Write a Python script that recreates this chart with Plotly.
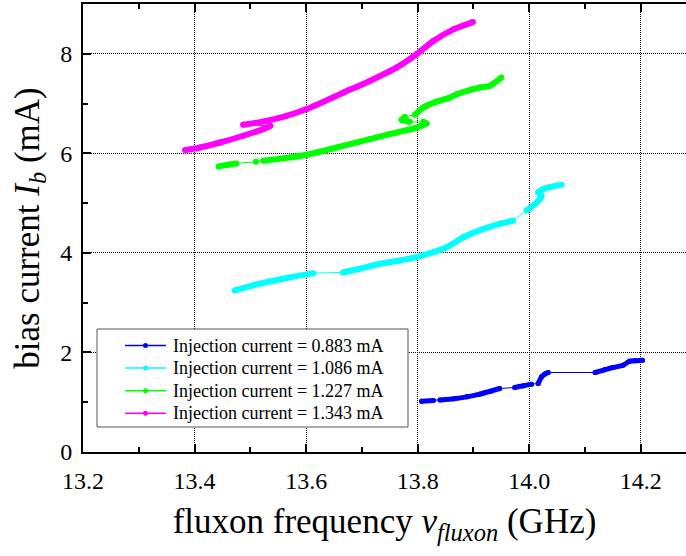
import plotly.graph_objects as go

# Fluxon frequency (GHz) and bias current (mA) for each injection current.
# *_thin lists the indices i where the step i -> i+1 is a sparse jump
# (drawn only with the thin connecting line).

inj_labels = ["0.883", "1.086", "1.227", "1.343"]
colors = ["#0000ff", "#00ffff", "#00ff00", "#ff00ff"]

blue_x = [13.807, 13.828, 13.840, 13.865, 13.888, 13.911, 13.930, 13.947,
          13.974, 13.990, 14.004, 14.016, 14.022, 14.028, 14.034,
          14.118, 14.135, 14.150, 14.168, 14.180, 14.190, 14.203]
blue_y = [1.022, 1.036, 1.045, 1.070, 1.108, 1.162, 1.220, 1.276,
          1.296, 1.330, 1.363, 1.376, 1.510, 1.565, 1.597,
          1.597, 1.650, 1.697, 1.743, 1.824, 1.835, 1.844]
blue_thin = [1, 7, 10, 14]

cyan_x = [13.472, 13.505, 13.559, 13.613, 13.666, 13.696, 13.732, 13.768,
          13.798, 13.828, 13.852, 13.882, 13.918, 13.947, 13.971,
          13.995, 14.008, 14.019, 14.022, 14.016, 14.025, 14.040, 14.058]
cyan_y = [3.246, 3.347, 3.480, 3.593, 3.607, 3.681, 3.781, 3.848,
          3.915, 4.014, 4.114, 4.315, 4.482, 4.583, 4.649,
          4.850, 4.960, 5.084, 5.150, 5.217, 5.285, 5.330, 5.371]
cyan_thin = [3, 14]

green_x = [13.443, 13.460, 13.475, 13.510, 13.523, 13.560, 13.601, 13.655,
           13.714, 13.750, 13.790, 13.807, 13.816, 13.810, 13.786, 13.771,
           13.777, 13.795, 13.810, 13.834, 13.855, 13.870, 13.911, 13.929,
           13.950]
green_y = [5.738, 5.770, 5.798, 5.832, 5.852, 5.900, 5.972, 6.118,
           6.286, 6.387, 6.490, 6.553, 6.599, 6.633, 6.633, 6.673,
           6.733, 6.774, 6.920, 7.040, 7.108, 7.188, 7.321, 7.355,
           7.521]
green_thin = [2, 3, 13, 16]

magenta_x = [13.383, 13.410, 13.446, 13.487, 13.523, 13.536,
             13.487, 13.529, 13.565, 13.601, 13.667, 13.714, 13.762,
             13.798, 13.828, 13.864, 13.899]
magenta_y = [6.066, 6.118, 6.218, 6.353, 6.487, 6.553,
             6.573, 6.653, 6.753, 6.890, 7.221, 7.455, 7.722,
             7.990, 8.257, 8.491, 8.637]
magenta_thin = [5]

series = [
    (blue_x, blue_y, blue_thin, 5),
    (cyan_x, cyan_y, cyan_thin, 6),
    (green_x, green_y, green_thin, 6),
    (magenta_x, magenta_y, magenta_thin, 6),
]

FONT = "Liberation Serif"

# figure / plot-area geometry in pixels
W, H = 686, 556
ML, MR, MT, MB = 83, 0, 4, 104
PW, PH = W - ML - MR, H - MT - MB

fig = go.Figure()


def dense_segments(xs, ys, thin):
    """Split a series into its densely sampled runs, separated by None."""
    sx, sy = [], []
    for i, (x, y) in enumerate(zip(xs, ys)):
        sx.append(x)
        sy.append(y)
        if i in thin:
            sx.append(None)
            sy.append(None)
    return sx, sy


# thick strokes for the densely measured runs
for (xs, ys, thin, w), c in zip(series, colors):
    sx, sy = dense_segments(xs, ys, thin)
    fig.add_trace(go.Scatter(
        x=sx, y=sy, mode="lines+markers", connectgaps=False,
        line=dict(color=c, width=w, shape="spline", smoothing=0.6),
        marker=dict(color=c, size=w),
        showlegend=False, hoverinfo="skip"))

# thin connecting line with point markers
for (xs, ys, thin, w), c, lab in zip(series, colors, inj_labels):
    fig.add_trace(go.Scatter(
        x=xs, y=ys, mode="lines+markers",
        line=dict(color=c, width=1), marker=dict(color=c, size=5),
        name=f"Injection current = {lab} mA", showlegend=False))

tick_font = dict(family=FONT, size=24, color="black")
title_font = dict(family=FONT, size=35, color="black")

axis_common = dict(
    showline=True, linecolor="black", linewidth=2,
    ticks="inside", ticklen=8, tickwidth=2, tickcolor="black",
    showgrid=True, gridcolor="#000000", gridwidth=1, griddash="1px,1px",
    zeroline=False,
)

fig.update_xaxes(
    range=[13.2, 14.281], tick0=13.2, dtick=0.2, tickformat=".1f",
    mirror="ticks", ticklabelstandoff=6, tickfont=tick_font,
    minor=dict(dtick=0.1, ticks="inside", ticklen=5, tickwidth=2,
               tickcolor="black", showgrid=False),
    title=dict(text="fluxon frequency <i>ν</i><sub><i>fluxon</i></sub> (GHz)",
               font=title_font, standoff=16),
    **axis_common)

fig.update_yaxes(
    range=[0, 9], tick0=0, dtick=2, mirror=False, ticklabelstandoff=4,
    tickfont=tick_font,
    minor=dict(dtick=1, ticks="inside", ticklen=5, tickwidth=2,
               tickcolor="black", showgrid=False),
    title=dict(text="bias current <i>I</i><sub><i>b</i></sub> (mA)",
               font=title_font, standoff=10),
    **axis_common)


# legend box drawn in pixel layout units, converted to paper coordinates
def px_x(p):
    return (p - ML) / PW


def px_y(p):
    return (H - MB - p) / PH


LEG_BOX = (97, 329, 408, 427)       # left, top, right, bottom
LEG_ROW0, LEG_ROWSTEP = 345.5, 22.6
LEG_LINE = (125, 166)
LEG_TEXT_X = 171

shapes = [dict(type="rect", xref="paper", yref="paper",
               x0=px_x(LEG_BOX[0]), x1=px_x(LEG_BOX[2]),
               y0=px_y(LEG_BOX[3]), y1=px_y(LEG_BOX[1]),
               line=dict(color="#555555", width=1), fillcolor="white",
               layer="above")]
annotations = []
for k, (c, lab) in enumerate(zip(colors, inj_labels)):
    yc = LEG_ROW0 + k * LEG_ROWSTEP
    shapes.append(dict(type="line", xref="paper", yref="paper",
                       x0=px_x(LEG_LINE[0]), x1=px_x(LEG_LINE[1]),
                       y0=px_y(yc), y1=px_y(yc),
                       line=dict(color=c, width=1.5), layer="above"))
    xm = (LEG_LINE[0] + LEG_LINE[1]) / 2
    shapes.append(dict(type="circle", xref="paper", yref="paper",
                       x0=px_x(xm - 2.5), x1=px_x(xm + 2.5),
                       y0=px_y(yc + 2.5), y1=px_y(yc - 2.5),
                       line=dict(color=c, width=0), fillcolor=c,
                       layer="above"))
    annotations.append(dict(
        xref="paper", yref="paper", x=px_x(LEG_TEXT_X), y=px_y(yc),
        xanchor="left", yanchor="middle", showarrow=False,
        text=f"Injection current = {lab} mA",
        font=dict(family=FONT, size=18, color="black")))

fig.update_layout(
    width=W, height=H,
    margin=dict(l=ML, r=MR, t=MT, b=MB),
    font=dict(family=FONT, size=24, color="black"),
    paper_bgcolor="white", plot_bgcolor="white",
    showlegend=False,
    shapes=shapes, annotations=annotations,
)

fig.write_html("out.html")
